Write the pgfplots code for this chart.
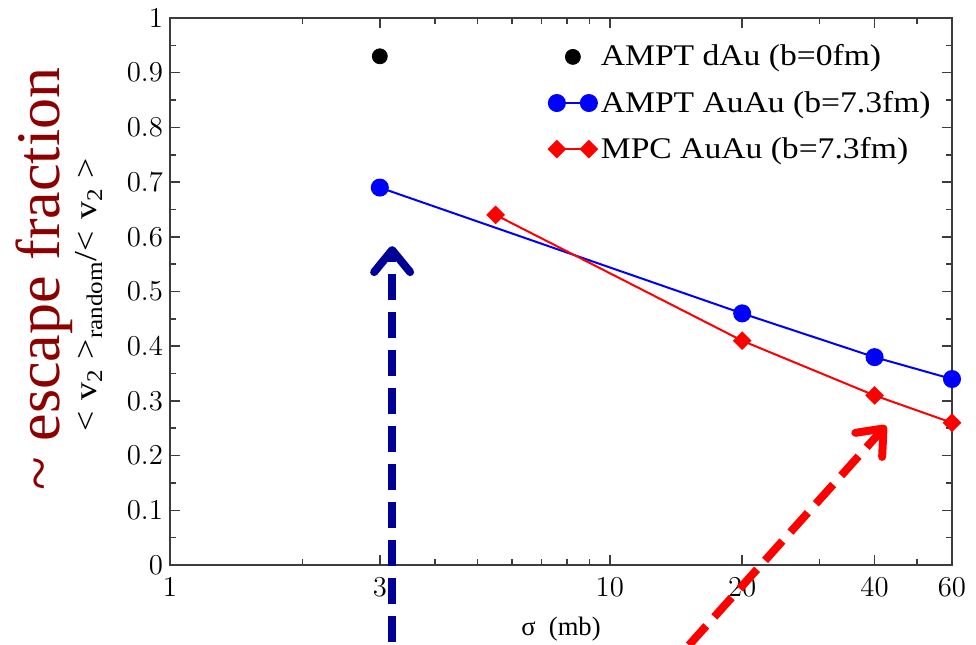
\documentclass[border=0pt]{standalone}
\usepackage{fontspec}
\setmainfont{Liberation Serif}
\newfontfamily\legfont[FakeStretch=1.12]{Liberation Serif}
\usepackage{pgfplots}
\pgfplotsset{compat=1.18}
\usetikzlibrary{arrows.meta}
\definecolor{escred}{RGB}{140,0,0}
\definecolor{arrblue}{RGB}{0,0,150}
\definecolor{axgray}{RGB}{60,60,60}
\pgfplotsset{
  legline/.style={legend image code/.code={\draw[##1] plot coordinates {(0pt,0pt) (16pt,0pt)};}},
  legdot/.style={legend image code/.code={\path[draw=none,fill=none] (-4pt,-4pt) rectangle (20pt,4pt); \draw[##1] plot coordinates {(8pt,0pt)};}},
}
\begin{document}
\begin{tikzpicture}
\begin{axis}[
  name=ax,
  xmode=log,
  scale only axis,
  width=391pt, height=273.5pt,
  xmin=1, xmax=60, ymin=0, ymax=1,
  xtick={1,3,10,20,40,60},
  xticklabels={$1$,$3$,$10$,$20$,$40$,$60$},
  minor xtick={2,4,5,6,7,8,9,30,50},
  ytick={0,0.1,0.2,0.3,0.4,0.5,0.6,0.7,0.8,0.9,1},
  yticklabels={$0$,$0.1$,$0.2$,$0.3$,$0.4$,$0.5$,$0.6$,$0.7$,$0.8$,$0.9$,$1$},
  minor ytick={0.05,0.15,0.25,0.35,0.45,0.55,0.65,0.75,0.85,0.95},
  tick align=inside,
  major tick length=5pt, minor tick length=3pt,
  axis line style={axgray, line width=1pt},
  every tick/.style={axgray, line width=0.8pt},
  tick label style={font=\fontsize{14}{16}\selectfont},
  xticklabel style={yshift=-3pt},
  clip=false,
  xlabel={\fontsize{13.3}{16}\selectfont σ\ \ (mb)},
  xlabel style={at={([yshift=-35pt]axis description cs:0.5,0)}, anchor=base},
  legend style={draw=none, fill=none, at={(axis description cs:0.484,0.959)}, anchor=north west,
    inner sep=0pt, row sep=7pt, font=\legfont\fontsize{15}{18}\selectfont},
  legend cell align=left,
]
\addplot[only marks, mark=*, mark size=3.75pt, black, legdot]
  coordinates {(3,0.93)};
\addlegendentry{AMPT dAu (b=0fm)}
\addplot[blue, line width=1pt, mark=*, mark size=4pt, legline]
  coordinates {(3,0.69) (20,0.46) (40,0.38) (60,0.34)};
\addlegendentry{AMPT AuAu (b=7.3fm)}
\addplot[red, line width=1pt, mark=square*, mark size=2.8pt, mark options={rotate=45}, legline]
  coordinates {(5.5,0.64) (20,0.41) (40,0.31) (60,0.26)};
\addlegendentry{MPC AuAu (b=7.3fm)}
\coordinate (b0) at (axis cs:3.2,-0.35);
\coordinate (b1) at (axis cs:3.2,0.583);
\coordinate (r0) at (axis cs:11.6,-0.25);
\coordinate (r1) at (axis cs:42.5,0.255);
\end{axis}
\node[rotate=90, anchor=base, text=escred, font=\fontsize{31}{36}\selectfont]
  at ([xshift=-55pt,yshift=143pt]ax.south west) {\textasciitilde\ escape fraction};
\node[rotate=90, anchor=base, font=\legfont\fontsize{16}{19}\selectfont]
  at ([xshift=-36.5pt,yshift=135pt]ax.south west)
  {<\hspace{0.35em}v\textsubscript{2}\hspace{0.3em}>\textsubscript{random}/<\hspace{0.35em}v\textsubscript{2}\hspace{0.3em}>};
\draw[arrblue, line width=4pt, dash pattern=on 13pt off 6pt,
  -{Straight Barb[round,length=11pt,width=18pt]}] (b0) -- (b1);
\draw[red, line width=4pt, dash pattern=on 13pt off 6pt,
  -{Straight Barb[round,length=11pt,width=18pt]}] (r0) -- (r1);
\pgfresetboundingbox
\path ([xshift=-85pt,yshift=-39.5pt]ax.south west) rectangle ([xshift=12pt,yshift=9pt]ax.north east);
\end{tikzpicture}
\end{document}
